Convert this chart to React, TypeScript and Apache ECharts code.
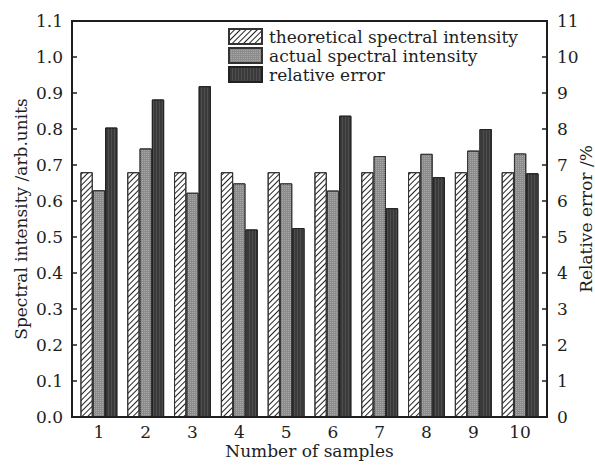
import React, { useEffect, useRef } from "react";
import * as echarts from "echarts";

const categories = ["1", "2", "3", "4", "5", "6", "7", "8", "9", "10"];
const theoretical = [0.68, 0.68, 0.68, 0.68, 0.68, 0.68, 0.68, 0.68, 0.68, 0.68];
const actual = [0.63, 0.746, 0.623, 0.649, 0.649, 0.629, 0.725, 0.731, 0.74, 0.732];
const relativeError = [8.04, 8.82, 9.19, 5.21, 5.25, 8.37, 5.8, 6.66, 8.0, 6.77];
const seriesNames = ["theoretical spectral intensity", "actual spectral intensity", "relative error"];

const FONT = "DejaVu Serif";
const INK = "#1e1e1e";

export default function App() {
  const ref = useRef<HTMLDivElement>(null);
  useEffect(() => {
    if (!ref.current) return;
    const chart = echarts.init(ref.current, undefined, { renderer: "svg" });
    const textStyle = { fontFamily: FONT, fontSize: 17, color: INK };
    chart.setOption({
      animation: false,
      backgroundColor: "#fff",
      textStyle: { fontFamily: FONT },
      grid: {
        left: 75.5,
        right: 51.5,
        top: 21,
        bottom: 48,
        containLabel: false,
        outerBoundsMode: "none",
      },
      legend: {
        orient: "vertical",
        left: 223,
        top: 23,
        itemWidth: 33,
        itemHeight: 15,
        itemGap: 2,
        icon: "rect",
        textStyle: { ...textStyle, padding: [0, 0, 0, 2] },
        data: seriesNames,
      },
      xAxis: {
        type: "category",
        data: categories,
        axisLine: { show: false },
        axisTick: { show: true, inside: true, alignWithLabel: true, length: 4, lineStyle: { color: INK, width: 1.5 } },
        axisLabel: { ...textStyle, margin: 6 },
        name: "Number of samples",
        nameLocation: "middle",
        nameGap: 25,
        nameMoveOverlap: false,
        nameTextStyle: textStyle,
        splitLine: { show: false },
      },
      yAxis: [
        {
          type: "value",
          min: 0,
          max: 1.1,
          interval: 0.1,
          offset: 3.5,
          axisLine: { show: false },
          axisTick: { show: true, inside: true, length: 5, lineStyle: { color: INK, width: 1.5 } },
          axisLabel: { ...textStyle, margin: 9, formatter: (v: number) => v.toFixed(1) },
          splitLine: { show: false },
          name: "Spectral intensity /arb.units",
          nameLocation: "middle",
          nameGap: 43,
          nameMoveOverlap: false,
          nameTextStyle: textStyle,
        },
        {
          type: "value",
          min: 0,
          max: 11,
          interval: 1,
          offset: 3.5,
          position: "right",
          axisLine: { show: false },
          axisTick: { show: true, inside: true, length: 5, lineStyle: { color: INK, width: 1.5 } },
          axisLabel: { ...textStyle, margin: 10 },
          splitLine: { show: false },
          name: "Relative error /%",
          nameLocation: "middle",
          nameGap: 30,
          nameMoveOverlap: false,
          nameTextStyle: textStyle,
        },
      ],
      graphic: [
        {
          type: "rect",
          shape: { x: 72, y: 21, width: 475, height: 396 },
          style: { fill: "none", stroke: INK, lineWidth: 2 },
          z: 100,
        },
      ],
      series: [
        {
          name: seriesNames[0],
          type: "bar",
          yAxisIndex: 0,
          data: theoretical,
          barWidth: 12.3,
          barGap: "0%",
          itemStyle: {
            color: "#ffffff",
            borderColor: "#333",
            borderWidth: 1,
            decal: {
              symbol: "rect",
              symbolSize: 1,
              dashArrayX: [1, 0],
              dashArrayY: [1, 3],
              rotation: -Math.PI / 4,
              color: "#222",
            },
          },
        },
        {
          name: seriesNames[1],
          type: "bar",
          yAxisIndex: 0,
          data: actual,
          barWidth: 12.3,
          barGap: "0%",
          itemStyle: {
            color: "#8c8c8c",
            borderColor: "#333",
            borderWidth: 1,
            decal: {
              symbol: "rect",
              symbolSize: 1,
              dashArrayX: [1, 1],
              dashArrayY: [1, 1],
              color: "#a8a8a8",
            },
          },
        },
        {
          name: seriesNames[2],
          type: "bar",
          yAxisIndex: 1,
          data: relativeError,
          barWidth: 12.3,
          barGap: "0%",
          itemStyle: {
            color: "#3a3a3a",
            borderColor: "#222",
            borderWidth: 1,
            decal: {
              symbol: "rect",
              symbolSize: 1,
              dashArrayX: [1, 2],
              dashArrayY: [1, 0],
              color: "#4e4e4e",
            },
          },
        },
      ],
    });
    return () => chart.dispose();
  }, []);
  return <div ref={ref} style={{ width: 595, height: 465, position: "absolute", left: 0, top: 0 }} />;
}
